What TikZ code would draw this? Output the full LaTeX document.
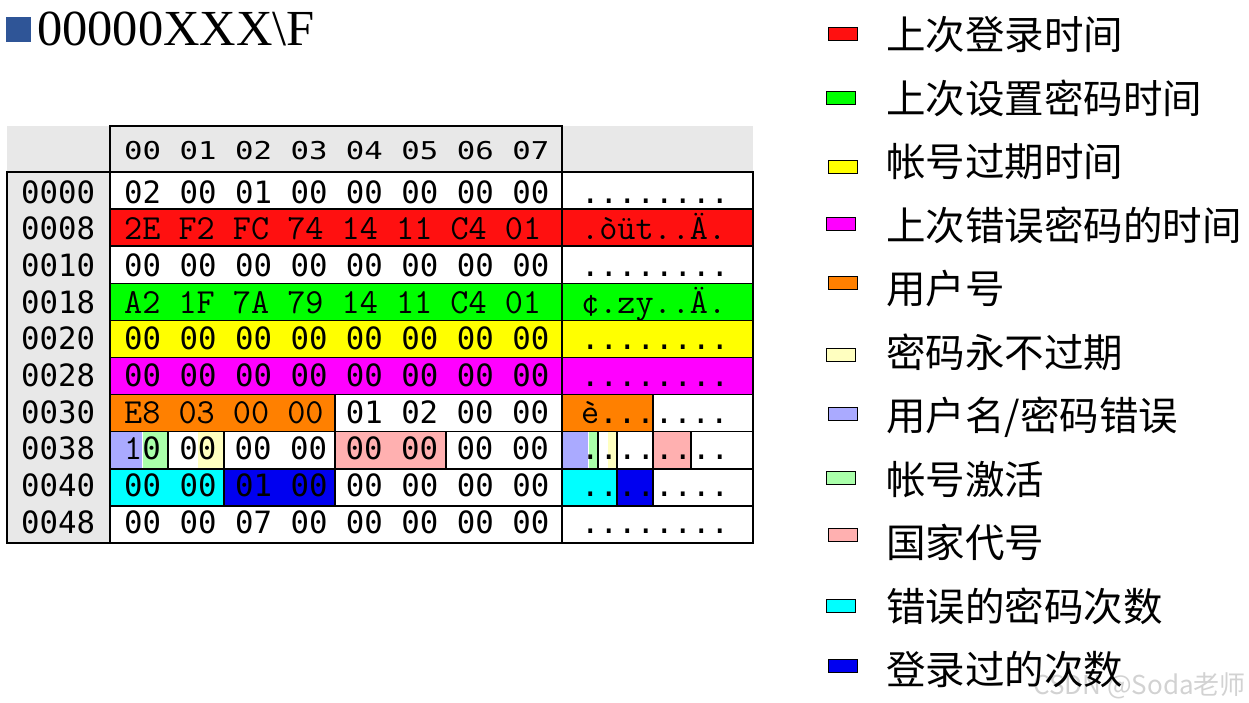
\documentclass[tikz,border=0pt]{standalone}
\usepackage{fontspec}
\usepackage{graphicx}
\setmainfont{Liberation Serif}
\newfontfamily\cjk{Noto Sans CJK SC}
\newfontfamily\hexmono{DejaVu Sans Mono}
\usetikzlibrary{positioning}
\definecolor{panelgray}{HTML}{E8E8E8}
\definecolor{titleblue}{HTML}{2F5597}
\definecolor{loginred}{HTML}{FF1010}
\definecolor{pwdgreen}{HTML}{00FF00}
\definecolor{expyellow}{HTML}{FFFF00}
\definecolor{errmagenta}{HTML}{FF00FF}
\definecolor{uidorange}{HTML}{FF8000}
\definecolor{neverpale}{HTML}{FFFFC0}
\definecolor{namelav}{HTML}{AAAAFF}
\definecolor{activegreen}{HTML}{AAFFAA}
\definecolor{countrypink}{HTML}{FFB0B0}
\definecolor{errcyan}{HTML}{00FFFF}
\definecolor{loginblue}{HTML}{0000F0}
\newcommand\serifhex{\ttfamily\fontsize{35.2}{35.2}\selectfont}

\begin{document}
\begin{tikzpicture}[x=1pt,y=-1pt,
      cell/.style={draw=black, line width=1.5pt},
      part/.style={draw=white, line width=0.8pt},
      hex/.style={anchor=base west, inner sep=0pt, font=\hexmono\fontsize{30.7}{30.7}\selectfont},
      hexs/.style={anchor=base west, inner sep=0pt, font=\serifhex},
      key/.style={draw=black, line width=0.8pt, minimum width=29pt, minimum height=13pt, inner sep=0pt},
      entry/.style={anchor=base west, inner sep=0pt, font=\cjk\fontsize{39.5}{39.5}\selectfont}
      ]
      \useasboundingbox (0,0) rectangle (1249,702);
      % title
      \node[fill=titleblue, minimum size=25pt, inner sep=0pt] (bullet) at (18.5,29) {};
      \node[anchor=base west, inner sep=0pt, font=\fontsize{50.5}{50.5}\selectfont] (title) at (37,45) {00000XXX\textbackslash F};
      % grey panels
      \fill[panelgray] (7,126) rectangle (753,172);
      \filldraw[cell, fill=panelgray] (7,172) rectangle (110,543);
      \draw[cell] (110,543) -- (110,126) -- (562,126) -- (562,543);
      % plain and coloured rows
      \filldraw[cell, fill=white] (110,172) rectangle (562,209.1);
      \filldraw[cell, fill=white] (562,172) rectangle (753,209.1);
      \filldraw[cell, fill=loginred] (110,209.1) rectangle (562,246.2);
      \filldraw[cell, fill=loginred] (562,209.1) rectangle (753,246.2);
      \filldraw[cell, fill=white] (110,246.2) rectangle (562,283.3);
      \filldraw[cell, fill=white] (562,246.2) rectangle (753,283.3);
      \filldraw[cell, fill=pwdgreen] (110,283.3) rectangle (562,320.4);
      \filldraw[cell, fill=pwdgreen] (562,283.3) rectangle (753,320.4);
      \filldraw[cell, fill=expyellow] (110,320.4) rectangle (562,357.5);
      \filldraw[cell, fill=expyellow] (562,320.4) rectangle (753,357.5);
      \filldraw[cell, fill=errmagenta] (110,357.5) rectangle (562,394.6);
      \filldraw[cell, fill=errmagenta] (562,357.5) rectangle (753,394.6);
      % 0030
      \filldraw[cell, fill=uidorange] (110,394.6) rectangle (335,431.7);
      \filldraw[cell, fill=white] (335,394.6) rectangle (562,431.7);
      \filldraw[cell, fill=uidorange] (562,394.6) rectangle (653,431.7);
      \filldraw[cell, fill=white] (653,394.6) rectangle (753,431.7);
      % 0038, bit fields
      \filldraw[part, fill=namelav] (110,431.7) rectangle (142,468.8);
      \filldraw[part, fill=activegreen] (142,431.7) rectangle (168,468.8);
      \filldraw[part, fill=white] (168,431.7) rectangle (197,468.8);
      \filldraw[part, fill=neverpale] (197,431.7) rectangle (224,468.8);
      \draw[cell] (110,431.7) rectangle (168,468.8);
      \draw[cell] (168,431.7) rectangle (224,468.8);
      \filldraw[cell, fill=white] (224,431.7) rectangle (335,468.8);
      \filldraw[cell, fill=countrypink] (335,431.7) rectangle (446,468.8);
      \filldraw[cell, fill=white] (446,431.7) rectangle (562,468.8);
      \filldraw[part, fill=namelav] (562,431.7) rectangle (588,468.8);
      \filldraw[part, fill=activegreen] (588,431.7) rectangle (598,468.8);
      \filldraw[part, fill=white] (598,431.7) rectangle (607,468.8);
      \filldraw[part, fill=neverpale] (607,431.7) rectangle (617,468.8);
      \draw[cell] (562,431.7) rectangle (598,468.8);
      \draw[cell] (598,431.7) rectangle (617,468.8);
      \filldraw[cell, fill=white] (617,431.7) rectangle (653,468.8);
      \filldraw[cell, fill=countrypink] (653,431.7) rectangle (691,468.8);
      \filldraw[cell, fill=white] (691,431.7) rectangle (753,468.8);
      % 0040
      \filldraw[cell, fill=errcyan] (110,468.8) rectangle (224,505.9);
      \filldraw[cell, fill=loginblue] (224,468.8) rectangle (335,505.9);
      \filldraw[cell, fill=white] (335,468.8) rectangle (562,505.9);
      \filldraw[cell, fill=errcyan] (562,468.8) rectangle (617,505.9);
      \filldraw[cell, fill=loginblue] (617,468.8) rectangle (653,505.9);
      \filldraw[cell, fill=white] (653,468.8) rectangle (753,505.9);
      % 0048
      \filldraw[cell, fill=white] (110,505.9) rectangle (562,543);
      \filldraw[cell, fill=white] (562,505.9) rectangle (753,543);
      % header and offsets
      \node[hex] (colhead) at (124,159) {\scalebox{1}[0.8]{00 01 02 03 04 05 06 07}};
      \node[hex] (adr0000) at (21,203) {0000};
      \node[hex] (adr0008) at (21,239.7) {0008};
      \node[hex] (adr0010) at (21,276.4) {0010};
      \node[hex] (adr0018) at (21,313.1) {0018};
      \node[hex] (adr0020) at (21,349.8) {0020};
      \node[hex] (adr0028) at (21,386.5) {0028};
      \node[hex] (adr0030) at (21,423.2) {0030};
      \node[hex] (adr0038) at (21,459.9) {0038};
      \node[hex] (adr0040) at (21,496.6) {0040};
      \node[hex] (adr0048) at (21,533.3) {0048};
      % bytes
      \node[hex] (hex0000) at (124,203) {02 00 01 00 00 00 00 00};
      \node[hexs] (hex0008) at (124,239.7) {2E F2 FC 74 14 11 C4 01};
      \node[hex] (hex0010) at (124,276.4) {00 00 00 00 00 00 00 00};
      \node[hexs] (hex0018) at (124,313.1) {A2 1F 7A 79 14 11 C4 01};
      \node[hex] (hex0020) at (124,349.8) {00 00 00 00 00 00 00 00};
      \node[hex] (hex0028) at (124,386.5) {00 00 00 00 00 00 00 00};
      \node[hexs] (hex0030) at (124,423.2) {E8 03 00 00};
      \node[hex] (hex0034) at (345.6,423.2) {01 02 00 00};
      \node[hex] (hex0038) at (124,459.9) {{\serifhex 1}0 00 00 00 00 00 00 00};
      \node[hex] (hex0040) at (124,496.6) {00 00 01 00 00 00 00 00};
      \node[hex] (hex0048) at (124,533.3) {00 00 07 00 00 00 00 00};
      % text view
      \node[hex] (asc0000) at (581,203) {........};
      \node[hexs] (asc0008) at (581,239.7) {.òüt..Ä.};
      \node[hex] (asc0010) at (581,276.4) {........};
      \node[hexs] (asc0018) at (581,313.1) {¢.zy..Ä.};
      \node[hex] (asc0020) at (581,349.8) {........};
      \node[hex] (asc0028) at (581,386.5) {........};
      \node[hex] (asc0030) at (581,423.2) {{\serifhex è}.......};
      \node[hex] (asc0038) at (581,459.9) {........};
      \node[hex] (asc0040) at (581,496.6) {........};
      \node[hex] (asc0048) at (581,533.3) {........};
      % legend
      \node[key, fill=loginred] (keylogin) at (842.5,33.5) {};
      \node[key, fill=pwdgreen] (keypwd) at (840.5,97.5) {};
      \node[key, fill=expyellow] (keyexp) at (842.5,166.5) {};
      \node[key, fill=errmagenta] (keyerrtime) at (840.5,223.5) {};
      \node[key, fill=uidorange] (keyuid) at (842.5,282.5) {};
      \node[key, fill=neverpale] (keynever) at (840.5,354.5) {};
      \node[key, fill=namelav] (keyname) at (842.5,414) {};
      \node[key, fill=activegreen] (keyactive) at (840.5,477.5) {};
      \node[key, fill=countrypink] (keycountry) at (842.5,534.5) {};
      \node[key, fill=errcyan] (keyerrcount) at (840.5,606) {};
      \node[key, fill=loginblue] (keylogins) at (842.5,666) {};
      \node[anchor=east, inner sep=0pt, text=gray!35, font=\cjk\fontsize{26}{26}\selectfont] (mark) at (1246,686) {CSDN @Soda老师};
      \node[entry] (txtlogin) at (886,49.5) {上次登录时间};
      \node[entry] (txtpwd) at (886,113) {上次设置密码时间};
      \node[entry] (txtexp) at (886,176.5) {帐号过期时间};
      \node[entry] (txterrtime) at (886,240) {上次错误密码的时间};
      \node[entry] (txtuid) at (886,303.5) {用户号};
      \node[entry] (txtnever) at (886,367) {密码永不过期};
      \node[entry] (txtname) at (886,430.5) {用户名/密码错误};
      \node[entry] (txtactive) at (886,494) {帐号激活};
      \node[entry] (txtcountry) at (886,557.5) {国家代号};
      \node[entry] (txterrcount) at (886,621) {错误的密码次数};
      \node[entry] (txtlogins) at (886,684.5) {登录过的次数};
    \end{tikzpicture}
\end{document}
